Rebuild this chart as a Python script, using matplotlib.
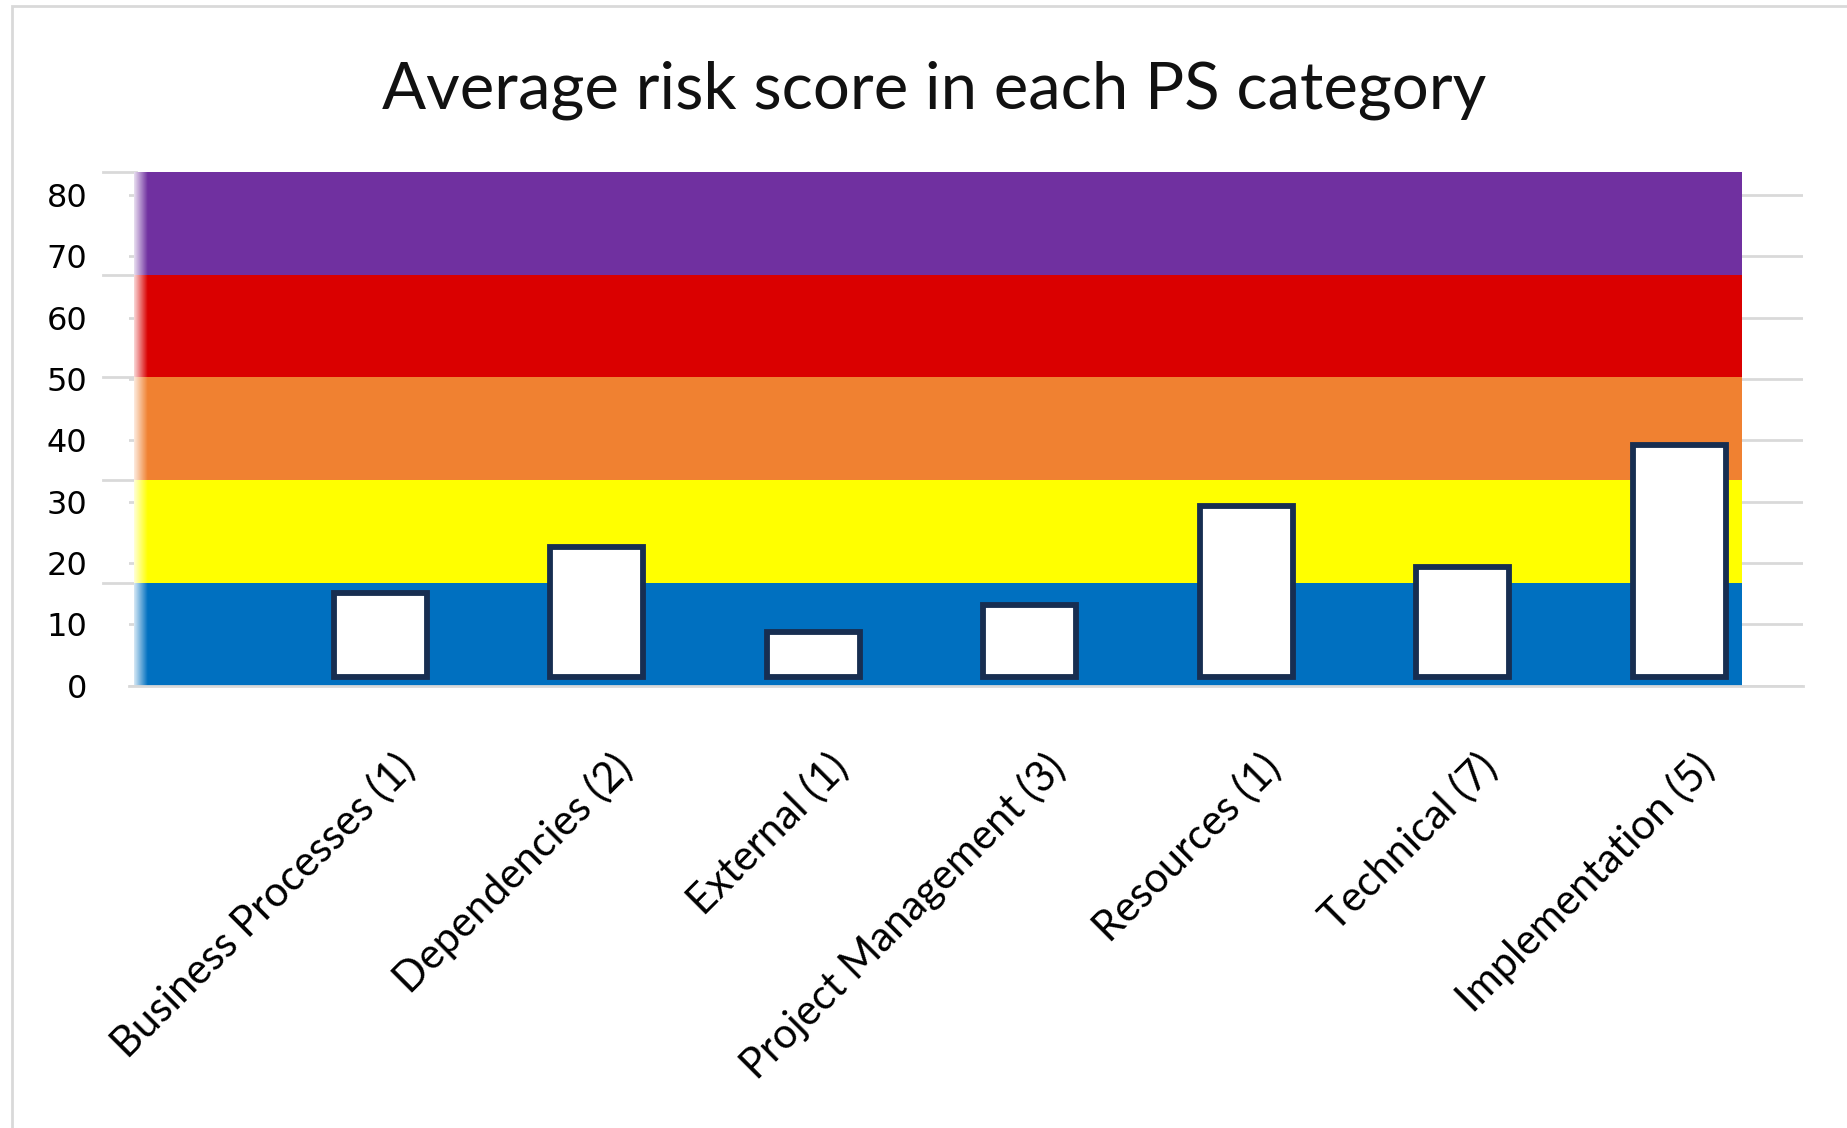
import numpy as np
import matplotlib
matplotlib.use('Agg')
import matplotlib.pyplot as plt
from matplotlib.patches import Rectangle
import matplotlib.transforms as mtransforms

categories = ['Business Processes (1)', 'Dependencies (2)', 'External (1)',
              'Project Management (3)', 'Resources (1)', 'Technical (7)',
              'Implementation (5)']
scores = [13.6, 21.2, 7.2, 11.7, 27.8, 17.8, 37.8]

# risk bands (bottom to top)
band_edges = [0, 16.75, 33.5, 50.25, 67.0, 83.75]
band_colors = ['#0070C0', '#FFFF00', '#F08131', '#DA0000', '#7030A0']

yticks = [0, 10, 20, 30, 40, 50, 60, 70, 80]

fig = plt.figure(figsize=(18.47, 11.28), dpi=100)
ax = fig.add_axes([0.070, 0.392, 0.906, 0.457])

x = np.arange(len(categories))
ax.set_xlim(-1.16, 6.57)
ax.set_ylim(0, 84)

# bands
band_right = (6.29 + 1.16) / (6.57 + 1.16)
for i in range(len(band_colors)):
    ax.axhspan(band_edges[i], band_edges[i+1], xmin=0.003, xmax=band_right,
               color=band_colors[i], lw=0, zorder=1)

# soft left edge of the bands
fade = np.linspace(1, 0, 64).reshape(1, -1)
ax.imshow(np.dstack([np.ones((1, 64, 3)), fade[..., None] * 0.85]),
          extent=(-1.16 + 0.003 * 7.73, -1.16 + 0.011 * 7.73, 0, band_edges[-1]),
          aspect='auto', zorder=1.5, interpolation='bilinear')

# stubs of the band boundaries on the left
trans = mtransforms.blended_transform_factory(ax.transAxes, ax.transData)
for e in band_edges[1:]:
    ax.plot([-0.0155, 0.004], [e, e], color='#d9d9d9', lw=2, transform=trans,
            clip_on=False, zorder=0.5)

ax.bar(x, scores, width=0.43, bottom=1.5, color='white', edgecolor='#172E51',
       linewidth=4.2, zorder=3)

ax.set_axisbelow(True)
ax.yaxis.grid(True, color='#d9d9d9', lw=2)
ax.set_yticks(yticks)
ax.set_yticklabels([str(v) for v in yticks], fontsize=23, family='DejaVu Sans')
ax.tick_params(axis='y', length=0, pad=30)

ax.set_xticks(x)
ax.set_xticklabels(categories, rotation=45, ha='right', rotation_mode='anchor',
                   fontsize=30, family='Lato')
ax.tick_params(axis='x', length=0, pad=44)
shift = mtransforms.ScaledTranslation(0.14, 0, fig.dpi_scale_trans)
for lbl in ax.get_xticklabels():
    lbl.set_transform(lbl.get_transform() + shift)

for s in ['top', 'right', 'left']:
    ax.spines[s].set_visible(False)
ax.spines['bottom'].set_color('#d9d9d9')
ax.spines['bottom'].set_linewidth(2)

fig.text(0.506, 0.920, 'Average risk score in each PS category', ha='center',
         va='center', fontsize=47, family='Lato', color='#111111')

# chart border
fig.patches.append(Rectangle((0.0065, -0.02), 1.2, 1.015, transform=fig.transFigure,
                             fill=False, edgecolor='#d9d9d9', lw=2))

fig.savefig('out.png', dpi=100)
